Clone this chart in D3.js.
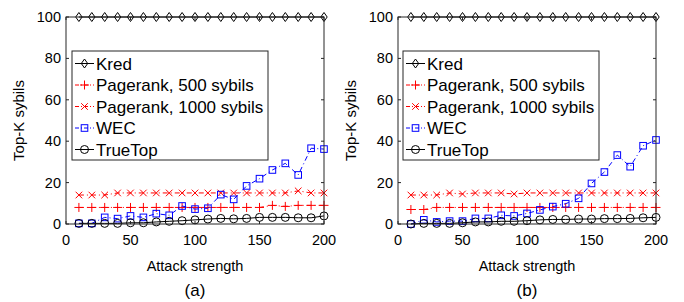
<!DOCTYPE html>
<html>
<head>
<meta charset="utf-8">
<script src="https://cdn.jsdelivr.net/npm/d3@7"></script>
<style>
  body { margin: 0; background: #fff; }
  svg text { font-family: "Liberation Sans", Arial, sans-serif; }
</style>
</head>
<body>
<svg id="chart" width="684" height="302"></svg>
<script>
// attack strengths on the x axis
const attack = [10, 20, 30, 40, 50, 60, 70, 80, 90, 100, 110, 120, 130, 140, 150, 160, 170, 180, 190, 200];
const xTicks = [0, 50, 100, 150, 200];
const yTicks = [0, 20, 40, 60, 80, 100];

// panel (a)
const kredA = [100, 100, 100, 100, 100, 100, 100, 100, 100, 100, 100, 100, 100, 100, 100, 100, 100, 100, 100, 100];
const pr500A = [8, 8, 8, 8, 8, 8, 8, 8, 8, 8, 8, 8, 8, 8, 8, 9, 8.5, 9, 9, 9];
const pr1000A = [14, 14, 14, 15, 15, 15, 15, 15, 15, 15, 15, 15, 15, 15, 15, 15, 15, 16, 15, 15];
const wecA = [0.3, 0.3, 3.2, 2.6, 3.9, 3.2, 5, 4.2, 8.7, 7.2, 7.6, 14.2, 11.9, 18.4, 21.9, 26.1, 29.3, 23.7, 36.6, 36.2];
const trueTopA = [0.3, 0.3, 0.3, 0.3, 0.6, 0.6, 1, 1.3, 1.6, 2, 2.4, 2.7, 2.5, 2.7, 3.2, 3.2, 3.2, 3, 3, 3.9];

// panel (b)
const kredB = [100, 100, 100, 100, 100, 100, 100, 100, 100, 100, 100, 100, 100, 100, 100, 100, 100, 100, 100, 100];
const pr500B = [7, 7, 8, 8, 8, 8, 8, 8, 8, 8, 8, 8, 8, 8, 8, 8, 8, 8, 8, 8];
const pr1000B = [14, 14, 14, 15, 14.5, 15, 15, 15, 14.5, 15, 15, 15, 15, 15, 15, 15, 15, 15, 15, 15];
const wecB = [0, 2, 1, 1.4, 1.4, 2.7, 2.7, 4.2, 3.9, 5.1, 6.8, 8.4, 9.8, 12.4, 19.6, 25.1, 33.3, 27.7, 37.8, 40.6];
const trueTopB = [0, 0.3, 0.3, 0.3, 0.6, 1, 1, 1.3, 1.3, 1.6, 2, 2.2, 2.2, 2.4, 2.4, 2.6, 2.6, 2.7, 3, 3.2];

const seriesNames = ["Kred", "Pagerank, 500 sybils", "Pagerank, 1000 sybils", "WEC", "TrueTop"];

const styles = [
  { color: "#000", dash: null, marker: "diamond" },
  { color: "#ff0000", dash: "5,3,1,3", marker: "plus" },
  { color: "#ff0000", dash: "5,3,1,3", marker: "cross" },
  { color: "#0000ff", dash: "5,3,1,3", marker: "square" },
  { color: "#000", dash: null, marker: "circle" }
];

const svg = d3.select("#chart");

function drawMarker(g, type, x, y, color) {
  if (type === "diamond") {
    g.append("path").attr("d", `M${x},${y - 4.5}L${x + 3.2},${y}L${x},${y + 4.5}L${x - 3.2},${y}Z`)
      .attr("fill", "none").attr("stroke", color).attr("stroke-width", 1);
  } else if (type === "plus") {
    g.append("path").attr("d", `M${x - 4.5},${y}H${x + 4.5}M${x},${y - 4.5}V${y + 4.5}`)
      .attr("stroke", color).attr("stroke-width", 1);
  } else if (type === "cross") {
    g.append("path").attr("d", `M${x - 3.3},${y - 3.3}L${x + 3.3},${y + 3.3}M${x - 3.3},${y + 3.3}L${x + 3.3},${y - 3.3}`)
      .attr("stroke", color).attr("stroke-width", 1);
  } else if (type === "square") {
    g.append("rect").attr("x", x - 3.3).attr("y", y - 3.3).attr("width", 6.6).attr("height", 6.6)
      .attr("fill", "none").attr("stroke", color).attr("stroke-width", 1);
  } else if (type === "circle") {
    g.append("circle").attr("cx", x).attr("cy", y).attr("r", 4)
      .attr("fill", "none").attr("stroke", color).attr("stroke-width", 1);
  }
}

function drawPanel(left, seriesList, label, legendX) {
  const top = 17, bottom = 224, width = 258;
  const x = d3.scaleLinear().domain([0, 200]).range([left, left + width]);
  const y = d3.scaleLinear().domain([0, 100]).range([bottom, top]);
  const g = svg.append("g");

  // series
  seriesList.forEach((vals, i) => {
    const st = styles[i];
    const line = d3.line().x((d, j) => x(attack[j])).y(d => y(d));
    g.append("path").datum(vals).attr("d", line)
      .attr("fill", "none").attr("stroke", st.color).attr("stroke-width", 1)
      .attr("stroke-dasharray", st.dash);
    vals.forEach((v, j) => drawMarker(g, st.marker, x(attack[j]), y(v), st.color));
  });

  // frame
  g.append("rect").attr("x", left).attr("y", top).attr("width", width).attr("height", bottom - top)
    .attr("fill", "none").attr("stroke", "#262626").attr("stroke-width", 1);

  // ticks inward
  const tl = 3;
  yTicks.forEach(t => {
    g.append("line").attr("x1", left).attr("x2", left + tl).attr("y1", y(t)).attr("y2", y(t)).attr("stroke", "#262626");
    g.append("line").attr("x1", left + width).attr("x2", left + width - tl).attr("y1", y(t)).attr("y2", y(t)).attr("stroke", "#262626");
    g.append("text").attr("x", left - 5).attr("y", y(t) + 5).attr("text-anchor", "end")
      .attr("font-size", 14.5).text(t);
  });
  xTicks.forEach(t => {
    g.append("line").attr("x1", x(t)).attr("x2", x(t)).attr("y1", bottom).attr("y2", bottom - tl).attr("stroke", "#262626");
    g.append("line").attr("x1", x(t)).attr("x2", x(t)).attr("y1", top).attr("y2", top + tl).attr("stroke", "#262626");
    g.append("text").attr("x", x(t)).attr("y", bottom + 21).attr("text-anchor", "middle")
      .attr("font-size", 14.5).text(t);
  });

  g.append("text").attr("x", left + width / 2).attr("y", bottom + 47).attr("text-anchor", "middle")
    .attr("font-size", 14.5).text("Attack strength");
  g.append("text").attr("transform", `translate(${left - 42},${(top + bottom) / 2}) rotate(-90)`)
    .attr("text-anchor", "middle").attr("font-size", 15).text("Top-K sybils");
  g.append("text").attr("x", left + width / 2).attr("y", bottom + 72).attr("text-anchor", "middle")
    .attr("font-family", "'Liberation Serif', 'Times New Roman', serif").attr("font-size", 17).text(label);

  // legend
  const lg = g.append("g");
  lg.append("rect").attr("x", legendX).attr("y", 51).attr("width", 196).attr("height", 109)
    .attr("fill", "#fff").attr("stroke", "#262626").attr("stroke-width", 1);
  seriesNames.forEach((name, i) => {
    const st = styles[i];
    const ry = 63.5 + i * 21.5;
    lg.append("line").attr("x1", legendX + 3).attr("x2", legendX + 22).attr("y1", ry).attr("y2", ry)
      .attr("stroke", st.color).attr("stroke-width", 1).attr("stroke-dasharray", st.dash ? "4,2,1,2" : null);
    drawMarker(lg, st.marker, legendX + 12.5, ry, st.color);
    lg.append("text").attr("x", legendX + 24).attr("y", ry + 6).attr("font-size", 17).text(name);
  });
}

drawPanel(66, [kredA, pr500A, pr1000A, wecA, trueTopA], "(a)", 72);
drawPanel(398, [kredB, pr500B, pr1000B, wecB, trueTopB], "(b)", 403);
</script>
</body>
</html>
